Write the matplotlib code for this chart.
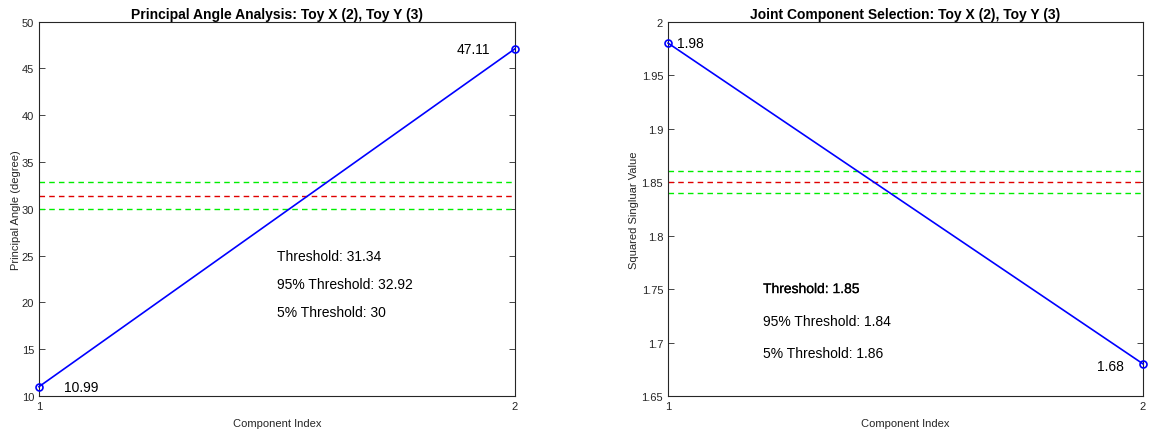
import matplotlib
matplotlib.use("Agg")
import matplotlib.pyplot as plt
import matplotlib.patheffects as pe

plt.rcParams['font.family'] = ['Liberation Sans', 'DejaVu Sans']

components = [1, 2]
angles = [10.99, 47.11]
angle_thr = 31.34
angle_thr95 = 32.92
angle_thr5 = 30.0

sv = [1.98, 1.68]
sv_thr = 1.85
sv_thr95 = 1.84
sv_thr5 = 1.86

left_yticks = [10, 15, 20, 25, 30, 35, 40, 45, 50]
right_yticks = [1.65, 1.7, 1.75, 1.8, 1.85, 1.9, 1.95, 2]

fig = plt.figure(figsize=(11.49, 4.35), dpi=100)
ax1 = fig.add_axes([0.0339, 0.0874, 0.4143, 0.8604])
ax2 = fig.add_axes([0.5814, 0.0874, 0.4134, 0.8604])

tick_color = '#262626'

def style(ax, yticks):
    ax.set_xlim(1, 2)
    ax.set_xticks(components)
    ax.set_xticklabels([str(c) for c in components])
    ax.set_ylim(yticks[0], yticks[-1])
    ax.set_yticks(yticks)
    ax.set_yticklabels([f"{t:g}" for t in yticks])
    ax.tick_params(direction='in', top=True, right=True, labelsize=8,
                   colors=tick_color, length=4, width=0.6)
    for s in ax.spines.values():
        s.set_color(tick_color)
        s.set_linewidth(0.8)

dash = (0, (4, 3))

# Left panel
ax1.axhline(angle_thr, color='#e00000', linestyle=dash, linewidth=1)
ax1.axhline(angle_thr95, color='#00ee00', linestyle=dash, linewidth=1)
ax1.axhline(angle_thr5, color='#00ee00', linestyle=dash, linewidth=1)
ax1.plot(components, angles, color='#0000ff', linewidth=1.2, marker='o',
         markersize=5, markerfacecolor='none', markeredgecolor='#0000ff',
         markeredgewidth=1.2, clip_on=False, zorder=5)
ax1.text(components[0] + 0.053, angles[0], f"{angles[0]:.2f}", fontsize=10,
         ha='left', va='center')
ax1.text(components[1] - 0.053, angles[1], f"{angles[1]:.2f}", fontsize=10,
         ha='right', va='center')
ax1.text(1.5, 25, f"Threshold: {angle_thr:g}", fontsize=10, va='center')
ax1.text(1.5, 22, f"95% Threshold: {angle_thr95:g}", fontsize=10, va='center')
ax1.text(1.5, 19, f"5% Threshold: {angle_thr5:g}", fontsize=10, va='center')
style(ax1, left_yticks)
ax1.set_title("Principal Angle Analysis: Toy X (2), Toy Y (3)", fontsize=10,
              fontweight='bold', pad=3)
ax1.set_xlabel("Component Index", fontsize=8, color=tick_color, labelpad=5)
ax1.set_ylabel("Principal Angle (degree)", fontsize=8, color=tick_color, labelpad=0.5)

# Right panel
ax2.axhline(sv_thr, color='#e00000', linestyle=dash, linewidth=1)
ax2.axhline(sv_thr95, color='#00ee00', linestyle=dash, linewidth=1)
ax2.axhline(sv_thr5, color='#00ee00', linestyle=dash, linewidth=1)
ax2.plot(components, sv, color='#0000ff', linewidth=1.2, marker='o',
         markersize=5, markerfacecolor='none', markeredgecolor='#0000ff',
         markeredgewidth=1.2, clip_on=False, zorder=5)
ax2.text(components[0] + 0.018, sv[0], f"{sv[0]:.2f}", fontsize=10,
         ha='left', va='center')
ax2.text(components[1] - 0.04, sv[1] - 0.002, f"{sv[1]:.2f}", fontsize=10,
         ha='right', va='center')
ax2.text(1.2, 1.75, f"Threshold: {sv_thr:g}", fontsize=10, va='center',
         path_effects=[pe.withStroke(linewidth=0.15, foreground='black')])
ax2.text(1.2, 1.72, f"95% Threshold: {sv_thr95:g}", fontsize=10, va='center')
ax2.text(1.2, 1.69, f"5% Threshold: {sv_thr5:g}", fontsize=10, va='center')
style(ax2, right_yticks)
ax2.set_title("Joint Component Selection: Toy X (2), Toy Y (3)", fontsize=10,
              fontweight='bold', pad=3)
ax2.set_xlabel("Component Index", fontsize=8, color=tick_color, labelpad=5)
ax2.set_ylabel("Squared Singluar Value", fontsize=8, color=tick_color, labelpad=2)

fig.savefig("out.png", dpi=100)
